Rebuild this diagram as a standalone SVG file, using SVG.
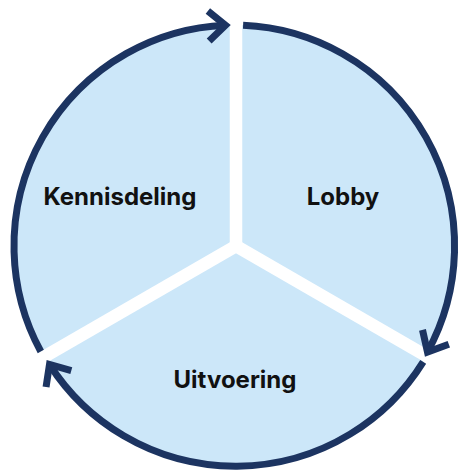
<svg xmlns="http://www.w3.org/2000/svg" width="461" height="473" viewBox="0 0 461 473">
  <style>
    .ring { fill: none; stroke: #1C3461; stroke-width: 7; }
    .gap { stroke: #FFFFFF; stroke-width: 12.5; }
    .label { font-family: Inter, "Liberation Sans", sans-serif; font-weight: 700; font-size: 24px; fill: #111111; text-anchor: middle; }
  </style>
  <defs>
    <marker id="chev" markerUnits="userSpaceOnUse" orient="auto" refX="0" refY="0" markerWidth="40" markerHeight="40" viewBox="-20 -20 40 40" overflow="visible">
      <path d="M -17,-15 L 0,0 L -17,15" fill="none" stroke="#1C3461" stroke-width="7" stroke-linejoin="miter"/>
    </marker>
  </defs>
  <rect width="461" height="473" fill="#FFFFFF"/>
  <g id="pie">
    <circle cx="235" cy="246" r="221" fill="#CCE7F9"/>
    <line class="gap" x1="236" y1="246" x2="236" y2="0"/>
    <line class="gap" x1="236" y1="246" x2="462" y2="376.5"/>
    <line class="gap" x1="236" y1="246" x2="10" y2="376.5"/>
  </g>
  <g id="connectors">
    <path class="ring" d="M 40.8,351.5 A 221 221 0 0 1 225.5,25.2" marker-end="url(#chev)"/>
    <path class="ring" d="M 243.1,25.2 A 221 221 0 0 1 427.5,352" marker-end="url(#chev)"/>
    <path class="ring" d="M 423.2,361.8 A 221 221 0 0 1 49.5,364.5" marker-end="url(#chev)"/>
  </g>
  <g id="node-kennisdeling">
    <text class="label" x="120" y="205">Kennisdeling</text>
  </g>
  <g id="node-lobby">
    <text class="label" x="343" y="205">Lobby</text>
  </g>
  <g id="node-uitvoering">
    <text class="label" x="235" y="388">Uitvoering</text>
  </g>
</svg>
